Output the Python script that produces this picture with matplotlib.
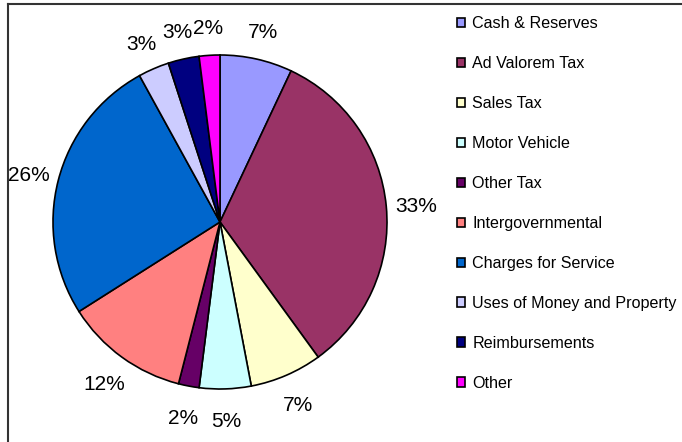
import numpy as np
import matplotlib
matplotlib.use('Agg')
import matplotlib.pyplot as plt
from matplotlib.lines import Line2D
from matplotlib.patches import Patch

plt.rcParams['font.family'] = ['Liberation Sans', 'DejaVu Sans']

# revenue sources (percent of total)
categories = ['Cash & Reserves', 'Ad Valorem Tax', 'Sales Tax', 'Motor Vehicle',
              'Other Tax', 'Intergovernmental', 'Charges for Service',
              'Uses of Money and Property', 'Reimbursements', 'Other']
shares = [7, 33, 7, 5, 2, 12, 26, 3, 3, 2]
colors = ['#9999FF', '#993366', '#FFFFCC', '#CCFFFF', '#660066',
          '#FF8080', '#0066CC', '#CCCCFF', '#000080', '#FF00FF']

W, H = 682, 442
fig = plt.figure(figsize=(W / 100, H / 100), dpi=100)

# pie centred at (220, 222) px, radius 167 px
cx, cy, r = 220, 222, 167
ax = fig.add_axes([(cx - r) / W, (H - cy - r) / H, 2 * r / W, 2 * r / H])
wedges, texts, autotexts = ax.pie(shares, colors=colors, startangle=90, counterclock=False,
                                  autopct='%1.0f%%', pctdistance=1.18,
                                  wedgeprops=dict(edgecolor='black', linewidth=1.2),
                                  textprops=dict(fontsize=15, color='black'))
# excel puts the labels a few pixels lower
for t in autotexts:
    x, y = t.get_position()
    t.set_position((x, y - 3 / r))
ax.set_xlim(-1, 1)
ax.set_ylim(-1, 1)
ax.set_aspect('equal')
ax.axis('off')

handles = [Patch(facecolor=c, edgecolor='black', linewidth=1.2) for c in colors]
fig.legend(handles, categories, loc='upper left', bbox_to_anchor=(457 / W, 1 - 16 / H),
           frameon=False, fontsize=11.6, handlelength=0.5, handleheight=0.5,
           handletextpad=0.45, labelspacing=1.55, borderpad=0, borderaxespad=0)

# chart border (left and top edges visible)
x0, y0 = 8 / W, 1 - 4 / H
fig.add_artist(Line2D([x0, x0], [0, y0], color='#333333', linewidth=1.5, transform=fig.transFigure))
fig.add_artist(Line2D([x0, 1], [y0, y0], color='#333333', linewidth=1.5, transform=fig.transFigure))

fig.savefig('out.png', dpi=100, facecolor='white')
